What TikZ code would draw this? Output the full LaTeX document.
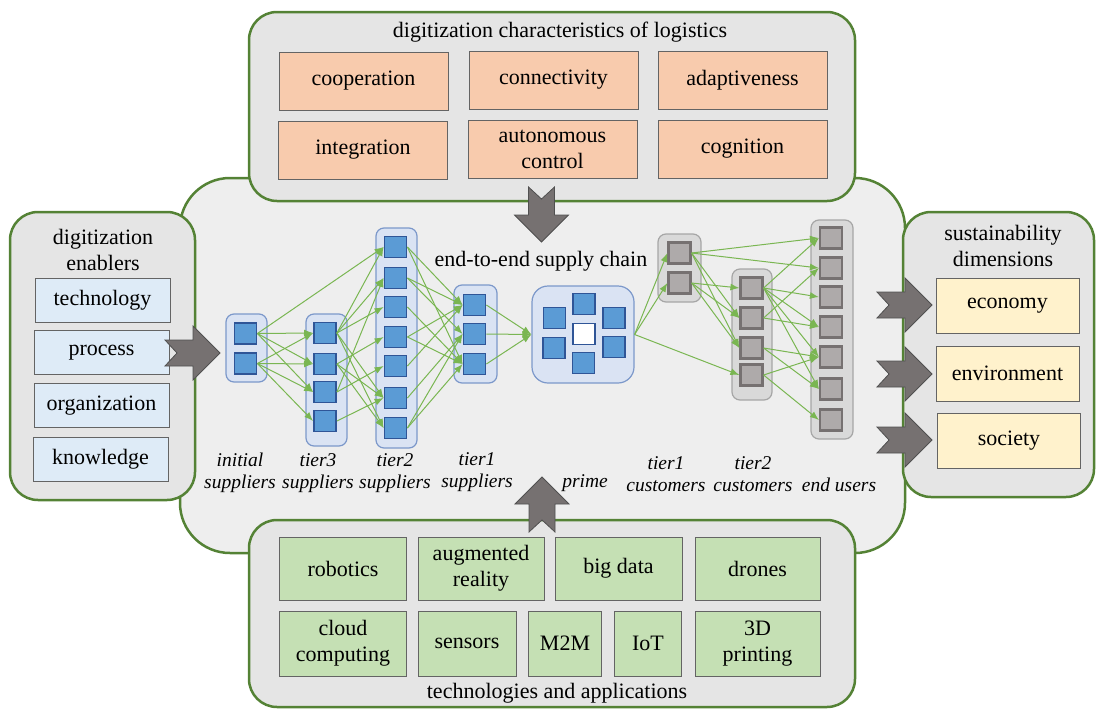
\documentclass[tikz,border=0pt]{standalone}
\usepackage{fontspec}
\setmainfont{Liberation Serif}
\usetikzlibrary{arrows.meta}
\definecolor{gborder}{RGB}{84,130,53}
\definecolor{centerfill}{RGB}{238,238,238}
\definecolor{boxfill}{RGB}{229,229,229}
\definecolor{cellborder}{RGB}{100,100,100}
\definecolor{orangecell}{RGB}{248,203,173}
\definecolor{greencell}{RGB}{197,224,180}
\definecolor{bluecell}{RGB}{222,235,247}
\definecolor{yellowcell}{RGB}{255,242,204}
\definecolor{sqblue}{RGB}{91,155,213}
\definecolor{sqblueborder}{RGB}{47,85,151}
\definecolor{grpblue}{RGB}{218,227,243}
\definecolor{grpblueborder}{RGB}{124,152,202}
\definecolor{sqgray}{RGB}{174,170,170}
\definecolor{sqgrayborder}{RGB}{118,113,113}
\definecolor{grpgray}{RGB}{217,217,217}
\definecolor{grpgrayborder}{RGB}{166,166,166}
\definecolor{edgegreen}{RGB}{122,182,82}
\definecolor{arrowfill}{RGB}{118,113,113}
\definecolor{arrowborder}{RGB}{80,80,80}
\begin{document}
\begin{tikzpicture}[x=1pt,y=-1pt,
  outerbox/.style={draw=gborder, line width=2.5pt, fill=boxfill, rounded corners=28pt},
  cell/.style={draw=cellborder, line width=0.9pt, inner sep=0pt, align=center,
    font=\fontsize{22}{26}\selectfont},
  titletext/.style={inner sep=0pt, align=center, font=\fontsize{22}{26}\selectfont},
  lbl/.style={inner sep=0pt, align=center, font=\fontsize{19.5}{22}\selectfont\itshape},
  sq/.style={draw=sqblueborder, fill=sqblue, line width=1.8pt, minimum width=22pt, minimum height=21pt, inner sep=0pt},
  sqw/.style={sq, fill=white},
  gsq/.style={draw=sqgrayborder, fill=sqgray, line width=2.2pt, minimum width=22pt, minimum height=21pt, inner sep=0pt},
  grp/.style={draw=grpblueborder, fill=grpblue, line width=1.2pt, rounded corners=8pt, inner sep=0pt},
  ggrp/.style={draw=grpgrayborder, fill=grpgray, line width=1.2pt, rounded corners=8pt, inner sep=0pt},
  edge/.style={draw=edgegreen, line width=1pt, -{Latex[length=9pt,width=7pt]}},
  blockarr/.pic={\draw[fill=arrowfill, draw=arrowborder, line width=0.8pt]
    (0,0) -- (-27,-27) -- (-27,-13) -- (-55,-13) -- (-43,0) -- (-55,13) -- (-27,13) -- (-27,27) -- cycle;}
]
\useasboundingbox (0,0) rectangle (1096,710);

% central region
\draw[draw=gborder, line width=2.5pt, fill=centerfill, rounded corners=50pt] (180,178) rectangle (905,553);

% outer boxes
\draw[outerbox] (249,12) rectangle (855,201);
\draw[outerbox] (249,520) rectangle (855,707);
\draw[outerbox] (10,212) rectangle (195,500);
\draw[outerbox] (903,212) rectangle (1094,497);

% top box
\node[titletext] (ttop) at (560,32) {digitization characteristics of logistics};
\begin{scope}[every node/.style={cell, fill=orangecell, minimum width=169pt, minimum height=58pt}]
\node (coop) at (363.5,81) {cooperation};
\node (conn) at (553.5,80) {connectivity};
\node (adap) at (742.5,80) {adaptiveness};
\node (inte) at (363,150) {integration};
\node (auto) at (552.5,149) {autonomous\\control};
\node (cogn) at (742.5,149) {cognition};
\end{scope}

% bottom box
\node[titletext] (tbot) at (557,693) {technologies and applications};
\begin{scope}[every node/.style={cell, fill=greencell, minimum height=63pt}]
\node[minimum width=127pt] (robo) at (343,568.5) {robotics};
\node[minimum width=126pt] (augm) at (481,568.5) {augmented\\reality};
\node[minimum width=127pt] (bigd) at (618.5,568.5) {big data};
\node[minimum width=125pt] (dron) at (757.5,568.5) {drones};
\end{scope}
\begin{scope}[every node/.style={cell, fill=greencell, minimum height=65pt}]
\node[minimum width=127pt] (clou) at (343,643.5) {cloud\\computing};
\node[minimum width=98pt] (sens) at (467,643.5) {sensors};
\node[minimum width=73pt] (mtom) at (565,643.5) {M2M};
\node[minimum width=67pt] (iot) at (648,643.5) {IoT};
\node[minimum width=125pt] (prin) at (757.5,643.5) {3D\\printing};
\end{scope}

% left box
\node[titletext] (tleft) at (103,250) {digitization\\enablers};
\begin{scope}[every node/.style={cell, fill=bluecell, minimum width=135pt, minimum height=44pt}]
\node (tech) at (102.5,300) {technology};
\node (proc) at (101.5,352.5) {process};
\node (orga) at (101.5,405.5) {organization};
\node (know) at (100.5,459) {knowledge};
\end{scope}

% right box
\node[titletext] (tright) at (1003,246) {sustainability\\dimensions};
\begin{scope}[every node/.style={cell, fill=yellowcell, minimum width=143pt, minimum height=55pt}]
\node (econ) at (1007.5,305.5) {economy};
\node (envi) at (1007.5,373.5) {environment};
\node (soci) at (1009,440.5) {society};
\end{scope}

% block arrows
\pic[rotate=-90] at (541.5,242) {blockarr};
\pic[rotate=90] at (542,477) {blockarr};
\pic at (220,353) {blockarr};
\pic at (932,305) {blockarr};
\pic at (932,374) {blockarr};
\pic at (932,440) {blockarr};

% supply chain title
\node[titletext] (tsc) at (541,261) {end-to-end supply chain};

% groups
\node[grp, minimum width=41pt, minimum height=68pt] (gi) at (246.5,348) {};
\node[grp, minimum width=41pt, minimum height=132pt] (g3) at (326.5,380) {};
\node[grp, minimum width=41pt, minimum height=220pt] (g2) at (396.5,338) {};
\node[grp, minimum width=43pt, minimum height=98pt] (g1) at (475.5,334) {};
\node[grp, rounded corners=16pt, minimum width=102pt, minimum height=97pt] (gp) at (583,334.5) {};
\node[ggrp, minimum width=43pt, minimum height=68pt] (gc1) at (679.5,268) {};
\node[ggrp, minimum width=40pt, minimum height=131pt] (gc2) at (752,334.5) {};
\node[ggrp, minimum width=42pt, minimum height=219pt] (ge) at (832,329.5) {};

% squares
\node[sq] (i1) at (245.5,333.5) {};
\node[sq] (i2) at (245.5,363.5) {};
\foreach \n/\y in {1/333,2/364,3/392,4/421} \node[sq] (t3\n) at (325,\y) {};
\foreach \n/\y in {1/247,2/278,3/307,4/337,5/366,6/398,7/428} \node[sq] (t2\n) at (395.5,\y) {};
\foreach \n/\y in {1/305,2/334,3/364} \node[sq] (t1\n) at (474.5,\y) {};
\node[sq] (p1) at (554.5,318) {};
\node[sq] (p2) at (584,304) {};
\node[sq] (p3) at (614,318) {};
\node[sq] (p4) at (554,348) {};
\node[sqw] (p5) at (584,334) {};
\node[sq] (p6) at (614,347) {};
\node[sq] (p7) at (583.5,363) {};
\foreach \n/\y in {1/253,2/283} \node[gsq] (c1\n) at (679.5,\y) {};
\foreach \n/\y in {1/288,2/318,3/348,4/375} \node[gsq] (c2\n) at (751.5,\y) {};
\foreach \n/\y in {1/238,2/268,3/297,4/327,5/357,6/389,7/420} \node[gsq] (e\n) at (831,\y) {};

% edges
\foreach \a/\b in {i1/t31,i1/t32,i1/t33,i1/t21,i2/t31,i2/t32,i2/t33,i2/t34,
  t31/t21,t31/t22,t31/t23,t31/t26,t31/t27,t32/t24,t32/t26,t32/t27,t33/t22,t33/t25,t34/t26,
  t21/t11,t21/t13,t22/t11,t22/t12,t23/t13,t24/t11,t24/t13,t25/t11,t26/t12,t27/t12,t27/t13,
  c11/e1,c11/e2,c11/c22,c11/c23,c12/c21,c12/c22,c12/c23,
  c21/e1,c21/e3,c21/e4,c21/e5,c21/e6,c22/e2,c22/e4,c23/e5,c23/e6,c24/e5,c24/e7}
  \draw[edge] (\a.east) -- (\b.west);
\foreach \a in {t11,t12,t13} \draw[edge] (\a.east) -- (gp.west);
\foreach \b in {c11,c12,c24} \draw[edge] (gp.east) -- (\b.west);

% labels
\node[lbl] (l1) at (240,473) {initial\\suppliers};
\node[lbl] (l2) at (318,473) {tier3\\suppliers};
\node[lbl] (l3) at (395,473) {tier2\\suppliers};
\node[lbl] (l4) at (477,472) {tier1\\suppliers};
\node[lbl] (l5) at (585,483) {prime};
\node[lbl] (l6) at (666,474.5) {tier1\\customers};
\node[lbl] (l7) at (753,474.5) {tier2\\customers};
\node[lbl] (l8) at (839,485) {end users};
\end{tikzpicture}
\end{document}
